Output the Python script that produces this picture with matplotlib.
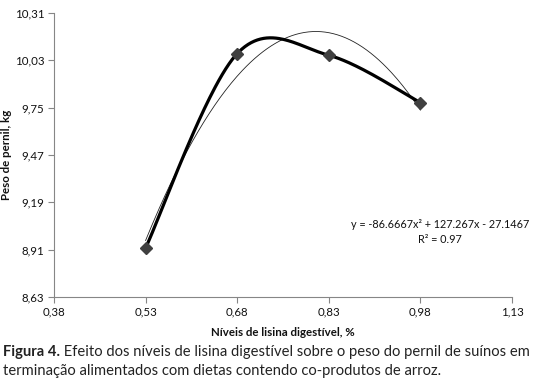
import numpy as np
import matplotlib
matplotlib.use("Agg")
import matplotlib.pyplot as plt

# Data
lisina = [0.53, 0.68, 0.83, 0.98]
peso = [8.92, 10.07, 10.06, 9.78]
x_ticks = [0.38, 0.53, 0.68, 0.83, 0.98, 1.13]
x_ticklabels = ["0,38", "0,53", "0,68", "0,83", "0,98", "1,13"]
y_ticks = [8.63, 8.91, 9.19, 9.47, 9.75, 10.03, 10.31]
y_ticklabels = ["8,63", "8,91", "9,19", "9,47", "9,75", "10,03", "10,31"]
equation = "y = -86.6667x² + 127.267x - 27.1467\nR² = 0.97"
xlabel = "Níveis de lisina digestível, %"
ylabel = "Peso de pernil, kg"
caption_bold = "Figura 4."
caption_rest = " Efeito dos níveis de lisina digestível sobre o peso do pernil de suínos em"
caption_line2 = "terminação alimentados com dietas contendo co-produtos de arroz."

plt.rcParams['font.family'] = ['Lato', 'DejaVu Sans']

fig = plt.figure(figsize=(5.34, 3.81), dpi=100)
ax = fig.add_axes([54/534, 1-297/381, (512-54)/534, (297-13)/381])
xmin, xmax = x_ticks[0], x_ticks[-1]
ymin, ymax = y_ticks[0], y_ticks[-1]
ax.set_xlim(xmin, xmax)
ax.set_ylim(ymin, ymax)

# Excel-like smoothed line (Catmull-Rom Bezier in normalized space)
P = np.column_stack([(np.array(lisina)-xmin)/(xmax-xmin),
                     (np.array(peso)-ymin)/(ymax-ymin)])
Pe = np.vstack([P[0], P, P[-1]])
curve = []
t = np.linspace(0, 1, 60)[:, None]
for i in range(1, len(Pe)-2):
    p0, p1, p2, p3 = Pe[i-1], Pe[i], Pe[i+1], Pe[i+2]
    c1 = p1 + (p2 - p0)/6
    c2 = p2 - (p3 - p1)/6
    seg = (1-t)**3*p1 + 3*(1-t)**2*t*c1 + 3*(1-t)*t**2*c2 + t**3*p2
    curve.append(seg)
curve = np.vstack(curve)
cx = curve[:, 0]*(xmax-xmin)+xmin
cy = curve[:, 1]*(ymax-ymin)+ymin

# Quadratic trendline
coef = np.polyfit(lisina, peso, 2)
tx = np.linspace(lisina[0], lisina[-1], 200)
ty = np.polyval(coef, tx)
ax.plot(tx, ty, color="#222222", lw=0.6, zorder=2)

ax.plot(cx, cy, color="black", lw=2.3, zorder=3, solid_capstyle="round")
ax.plot(lisina, peso, linestyle="none", marker="D", markersize=6.5,
        color="#404040", zorder=4)

ax.set_xticks(x_ticks)
ax.set_xticklabels(x_ticklabels)
ax.set_yticks(y_ticks)
ax.set_yticklabels(y_ticklabels)
for s in ["top", "right"]:
    ax.spines[s].set_visible(False)
for s in ["left", "bottom"]:
    ax.spines[s].set_color("#868686")
    ax.spines[s].set_linewidth(0.8)
ax.tick_params(axis="both", direction="out", length=4, width=0.8,
               color="#868686", labelsize=8.3, labelcolor="#111111", pad=3)

fig.text(440/534, 1-232/381, equation, ha="center", va="center",
         fontsize=7.8, color="#111111", linespacing=1.35)

fig.text(283/534, 1-332/381, xlabel, ha="center", va="center",
         fontsize=8.3, fontweight="bold", color="#111111")
fig.text(7/534, 1-155/381, ylabel, ha="center", va="center",
         fontsize=8.3, fontweight="bold", color="#111111", rotation=90)

cap_size = 10.6
t1 = fig.text(3/534, 1-352/381, caption_bold, ha="left", va="center",
              fontsize=cap_size, fontweight="bold", color="#222222")
fig.canvas.draw()
bb = t1.get_window_extent()
fig.text(bb.x1/fig.bbox.width, 1-352/381, caption_rest, ha="left", va="center",
         fontsize=cap_size, color="#222222")
fig.text(3/534, 1-371/381, caption_line2, ha="left", va="center",
         fontsize=cap_size, color="#222222")

fig.savefig("out.png", dpi=100)
